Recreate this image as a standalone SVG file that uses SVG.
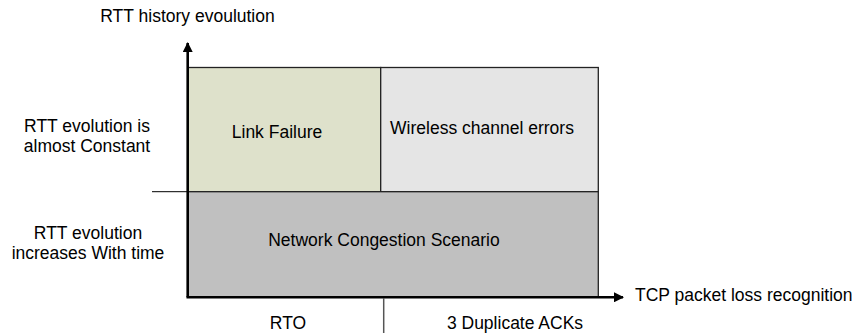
<svg xmlns="http://www.w3.org/2000/svg" width="856" height="333" viewBox="0 0 856 333">
<style>
text{font-family:"Liberation Sans",Arial,sans-serif;font-size:17.5px;fill:#000}
.box{stroke:#222;stroke-width:1.3}
.axis{stroke:#000;stroke-width:2.6;fill:none}
</style>
<defs>
<marker id="ah" viewBox="0 0 10 10" refX="9" refY="5" markerWidth="10" markerHeight="10" markerUnits="userSpaceOnUse" orient="auto">
<path d="M0,0 L10,5 L0,10 z" fill="#000"/>
</marker>
</defs>
<rect width="856" height="333" fill="#fff"/>
<g id="link-failure">
<rect class="box" x="188" y="67.5" width="192.7" height="124.2" fill="#DEE1CB"/>
<text x="277" y="137.5" text-anchor="middle">Link Failure</text>
</g>
<g id="wireless-errors">
<rect class="box" x="380.7" y="67.5" width="217.6" height="124.2" fill="#E5E5E5"/>
<text x="482" y="134" text-anchor="middle">Wireless channel errors</text>
</g>
<g id="network-congestion">
<rect class="box" x="188" y="191.7" width="410.3" height="105.6" fill="#C0C0C0"/>
<text x="384" y="246" text-anchor="middle">Network Congestion Scenario</text>
</g>
<g id="connectors">
<line class="axis" x1="187.7" y1="297.3" x2="187.7" y2="43" marker-end="url(#ah)"/>
<line class="axis" x1="186.5" y1="297.3" x2="623" y2="297.3" marker-end="url(#ah)"/>
<line x1="152" y1="191.7" x2="188" y2="191.7" stroke="#000" stroke-width="1"/>
<line x1="383.7" y1="298" x2="383.7" y2="333" stroke="#555" stroke-width="1.5"/>
</g>
<g id="labels">
<text x="187.5" y="22" text-anchor="middle">RTT history evoulution</text>
<text x="87" y="132.3" text-anchor="middle">RTT evolution is</text>
<text x="87" y="152.3" text-anchor="middle">almost Constant</text>
<text x="88" y="239" text-anchor="middle">RTT evolution</text>
<text x="88" y="259" text-anchor="middle">increases With time</text>
<text x="288" y="329" text-anchor="middle">RTO</text>
<text x="515" y="329" text-anchor="middle">3 Duplicate ACKs</text>
<text x="635" y="300.7">TCP packet loss recognition</text>
</g>
</svg>
